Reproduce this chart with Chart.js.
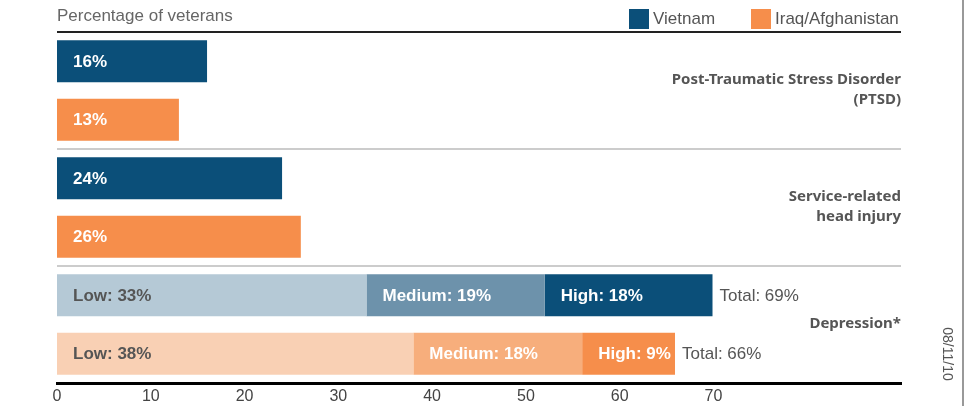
<!DOCTYPE html>
<html>
<head>
<meta charset="utf-8">
<script src="https://cdn.jsdelivr.net/npm/chart.js@4.4.0/dist/chart.umd.min.js"></script>
<style>
  html, body { margin: 0; padding: 0; background: #fff; }
  #wrap { position: relative; width: 966px; height: 406px; }
</style>
</head>
<body>
<div id="wrap"><canvas id="myChart"></canvas></div>
<script>
// rows, top to bottom
var rowLabels = ['PTSD Vietnam', 'PTSD Iraq/Afghanistan', 'Head injury Vietnam', 'Head injury Iraq/Afghanistan', 'Depression Vietnam', 'Depression Iraq/Afghanistan'];
var groupLabels = [['Post-Traumatic Stress Disorder', '(PTSD)'], ['Service-related', 'head injury'], ['Depression*']];
var seriesNames = ['Vietnam', 'Iraq/Afghanistan'];

// values are [Vietnam, Iraq/Afghanistan]
var ptsd = [16, 13];
var headInjury = [24, 26];
var depressionLow = [33, 38];
var depressionMedium = [19, 18];
// bar lengths as drawn (the printed shares are rounded)
var depressionHigh = [17.9, 9.9];
var depressionHighText = [18, 9];
var depressionTotal = [69, 66];

var xTicks = [0, 10, 20, 30, 40, 50, 60, 70];

var navy = '#0b4f79';
var orange = '#f68e4b';

var ctx = document.getElementById('myChart').getContext('2d');

// depression rows are the last two
function depressionRows(pair) {
  return [null, null, null, null, pair[0], pair[1]];
}

var vietnamData = [ptsd[0], null, headInjury[0], null, null, null];
var iraqData = [null, ptsd[1], null, headInjury[1], null, null];

var datasets = [
  { label: seriesNames[0], data: vietnamData, backgroundColor: navy, textColor: '#fff', prefix: '' },
  { label: seriesNames[1], data: iraqData, backgroundColor: orange, textColor: '#fff', prefix: '' },
  { label: 'Low', data: depressionRows(depressionLow),
    backgroundColor: ['#b5c9d6', '#b5c9d6', '#b5c9d6', '#b5c9d6', '#b5c9d6', '#f9d0b4'], textColor: '#555', prefix: 'Low: ' },
  { label: 'Medium', data: depressionRows(depressionMedium),
    backgroundColor: ['#6d92ab', '#6d92ab', '#6d92ab', '#6d92ab', '#6d92ab', '#f7ae7c'], textColor: '#fff', prefix: 'Medium: ' },
  { label: 'High', data: depressionRows(depressionHigh), shown: depressionRows(depressionHighText),
    backgroundColor: [navy, navy, navy, navy, navy, orange], textColor: '#fff', prefix: 'High: ',
    totals: depressionRows(depressionTotal) }
];

var barText = {
  id: 'barText',
  afterDatasetsDraw: function(chart) {
    var c = chart.ctx;
    c.save();
    c.textBaseline = 'middle';
    chart.data.datasets.forEach(function(ds, di) {
      var meta = chart.getDatasetMeta(di);
      meta.data.forEach(function(bar, i) {
        var v = ds.data[i];
        if (v === null || v === undefined) return;
        if (ds.shown) v = ds.shown[i];
        var left = Math.min(bar.x, bar.base);
        c.font = 'bold 17px "Liberation Sans", Arial, sans-serif';
        c.fillStyle = ds.textColor;
        c.textAlign = 'left';
        c.fillText(ds.prefix + v + '%', left + 16, bar.y + 1);
        if (ds.totals && ds.totals[i] !== null) {
          c.font = '17px "Liberation Sans", Arial, sans-serif';
          c.fillStyle = '#555';
          c.fillText('Total: ' + ds.totals[i] + '%', bar.x + 7, bar.y + 1);
        }
      });
    });
    c.restore();
  }
};

var decorations = {
  id: 'decorations',
  afterDraw: function(chart) {
    var c = chart.ctx;
    var area = chart.chartArea;
    var y = chart.scales.y;
    c.save();

    // title
    c.font = '17px "Liberation Sans", Arial, sans-serif';
    c.fillStyle = '#666';
    c.textBaseline = 'middle';
    c.textAlign = 'left';
    c.fillText('Percentage of veterans', area.left, 16);

    // legend
    var legendX = [629, 751];
    var legendColors = [navy, orange];
    seriesNames.forEach(function(name, k) {
      c.fillStyle = legendColors[k];
      c.fillRect(legendX[k], 9, 20, 20);
      c.fillStyle = '#555';
      c.fillText(name, legendX[k] + 24, 19);
    });

    // top rule
    c.strokeStyle = '#222';
    c.lineWidth = 2;
    c.beginPath();
    c.moveTo(area.left, area.top);
    c.lineTo(area.right, area.top);
    c.stroke();

    // group separators
    c.strokeStyle = '#bbb';
    c.lineWidth = 1.5;
    [2, 4].forEach(function(idx) {
      var yy = (y.getPixelForValue(idx - 1) + y.getPixelForValue(idx)) / 2;
      c.beginPath();
      c.moveTo(area.left, yy);
      c.lineTo(area.right, yy);
      c.stroke();
    });

    // group labels on the right
    c.font = 'bold 15px "Noto Sans", sans-serif';
    c.fillStyle = '#555';
    c.textAlign = 'right';
    groupLabels.forEach(function(lines, g) {
      var cy = (y.getPixelForValue(g * 2) + y.getPixelForValue(g * 2 + 1)) / 2 - 1;
      var start = cy - (lines.length - 1) * 10;
      lines.forEach(function(t, j) {
        c.fillText(t, area.right, start + j * 20);
      });
    });

    // date stamp
    c.save();
    c.translate(947, 354);
    c.rotate(Math.PI / 2);
    c.font = '14px "Liberation Sans", Arial, sans-serif';
    c.fillStyle = '#555';
    c.textAlign = 'center';
    c.fillText('08/11/10', 0, 0);
    c.restore();

    // right frame line
    c.strokeStyle = '#999';
    c.lineWidth = 2;
    c.beginPath();
    c.moveTo(963, 0);
    c.lineTo(963, chart.height);
    c.stroke();

    c.restore();
  }
};

var myChart = new Chart(ctx, {
  type: 'bar',
  data: {
    labels: rowLabels,
    datasets: datasets
  },
  options: {
    indexAxis: 'y',
    responsive: true,
    maintainAspectRatio: false,
    animation: false,
    layout: { padding: { left: 57, right: 65, top: 32, bottom: 0 } },
    datasets: { bar: { barPercentage: 0.72, categoryPercentage: 1 } },
    plugins: {
      legend: { display: false },
      tooltip: { enabled: false }
    },
    scales: {
      x: {
        stacked: true,
        min: 0,
        max: 90,
        grid: { display: false, drawTicks: false },
        border: { display: true, color: '#000', width: 3 },
        afterFit: function(s) { s.height = 23; },
        afterBuildTicks: function(s) {
          s.ticks = xTicks.map(function(v) { return { value: v }; });
        },
        ticks: {
          padding: 4,
          color: '#444',
          font: { family: '"Liberation Sans", Arial, sans-serif', size: 16 },
          maxRotation: 0
        }
      },
      y: {
        stacked: true,
        display: false
      }
    }
  },
  plugins: [barText, decorations]
});
</script>
</body>
</html>
